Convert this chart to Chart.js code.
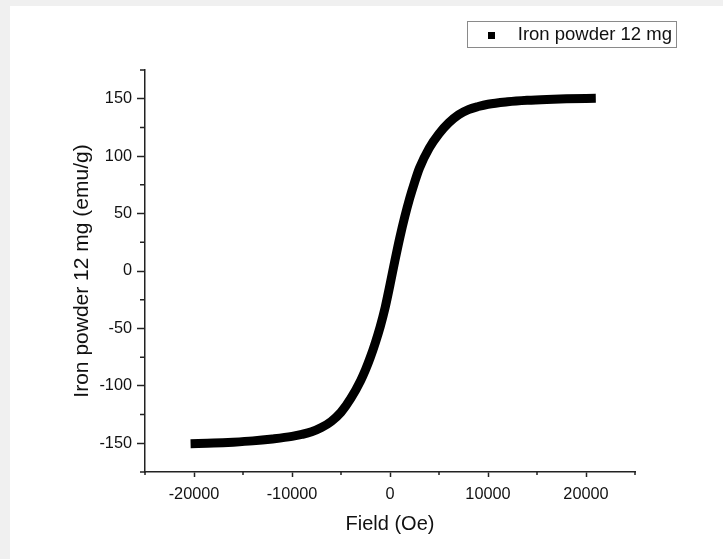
<!DOCTYPE html>
<html><head><meta charset="utf-8">
<script src="https://cdn.jsdelivr.net/npm/chart.js@4/dist/chart.umd.min.js"></script>
<style>
html,body{margin:0;padding:0;background:#f0f0f0;width:723px;height:559px;overflow:hidden}
#wrap{position:absolute;left:10px;top:6px;width:713px;height:553px;background:#fff}
canvas{display:block}
</style></head><body>
<div id="wrap"><canvas id="c" width="713" height="553"></canvas></div>
<script>
const seriesLabel = 'Iron powder 12 mg';
const xTitle = 'Field (Oe)';
const yTitle = 'Iron powder 12 mg (emu/g)';
const fieldOe = [-20350,-18000,-16000,-14000,-12000,-10000,-9000,-8000,-7000,-6000,-5000,-4000,-3000,-2500,-2000,-1500,-1000,-500,0,500,1000,1500,2000,2500,3000,4000,5000,6000,7000,8000,9000,10000,12000,14000,16000,18000,21000];
const magnetization = [-150.3,-149.8,-149.0,-147.9,-146.2,-144.0,-142.3,-140.0,-136.3,-131.0,-123.0,-111.0,-95.5,-86.0,-75.0,-62.5,-48.5,-32.0,-12.0,9.0,29.0,47.0,63.0,77.0,89.5,107.0,119.5,129.0,136.0,140.5,143.2,145.2,147.3,148.6,149.4,149.9,150.3];
const xTicks = [-20000,-10000,0,10000,20000];
const xMinor = [-25000,-15000,-5000,5000,15000,25000];
const yTicks = [-150,-100,-50,0,50,100,150];
const yMinor = [-175,-125,-75,-25,25,75,125,175];

const AX = '#222';
const TXT = '#111';
const FONT = "'Liberation Sans', Arial, sans-serif";

const marker = document.createElement('canvas');
marker.width = 7; marker.height = 7;
(function(){const m = marker.getContext('2d'); m.fillStyle = '#000'; m.fillRect(0,0,7,7);})();

const extras = {
  id: 'extras',
  afterDraw(chart){
    const ctx = chart.ctx, xs = chart.scales.x, ys = chart.scales.y;
    ctx.save();
    ctx.strokeStyle = AX; ctx.lineWidth = 1.5;
    ctx.beginPath();
    xMinor.forEach(v => { const p = xs.getPixelForValue(v); ctx.moveTo(p, xs.top); ctx.lineTo(p, xs.top + 3); });
    yMinor.forEach(v => { const p = ys.getPixelForValue(v); ctx.moveTo(ys.right, p); ctx.lineTo(ys.right - 5, p); });
    ctx.stroke();
    const lg = chart.legend;
    if (lg && lg.legendHitBoxes && lg.legendHitBoxes.length) {
      const hb = lg.legendHitBoxes[0];
      const cy = hb.top + hb.height / 2;
      const l = hb.left - 7, r = lg.right;
      ctx.strokeStyle = '#8a8a8a'; ctx.lineWidth = 1;
      ctx.strokeRect(Math.round(l) + 0.5, Math.round(cy - 14) + 0.5, Math.round(r - l), 26);
    }
    ctx.restore();
  }
};

new Chart(document.getElementById('c'), {
  type: 'scatter',
  data: {
    datasets: [{
      label: seriesLabel,
      data: fieldOe.map((x, i) => ({x, y: magnetization[i]})),
      showLine: true,
      borderColor: '#000',
      backgroundColor: '#000',
      borderWidth: 9,
      pointRadius: 0,
      pointStyle: marker,
      cubicInterpolationMode: 'monotone',
      borderCapStyle: 'butt',
      fill: false
    }]
  },
  options: {
    responsive: false,
    animation: false,
    layout: { padding: { left: 0, top: 16, right: 47, bottom: 0 } },
    plugins: {
      tooltip: { enabled: false },
      legend: {
        position: 'top',
        align: 'end',
        labels: {
          usePointStyle: true,
          pointStyle: marker,
          pointStyleWidth: 34.6,
          boxHeight: 7,
          padding: 4,
          color: TXT,
          font: { family: FONT, size: 18.5 }
        }
      }
    },
    scales: {
      x: {
        type: 'linear', position: 'bottom', min: -25000, max: 25000,
        afterBuildTicks: s => { s.ticks = xTicks.map(v => ({value: v})); },
        afterFit: s => { s.height = 87; },
        grid: { display: true, drawOnChartArea: false, drawTicks: true, tickLength: 5, tickWidth: 1.5, tickColor: AX },
        border: { display: true, color: AX, width: 1.5 },
        ticks: { color: TXT, padding: 8, maxRotation: 0, font: { family: FONT, size: 16.3 }, callback: v => String(v) },
        title: { display: true, text: xTitle, color: TXT, font: { family: FONT, size: 20 }, padding: { top: 0, bottom: 23 } }
      },
      y: {
        type: 'linear', position: 'left', min: -175, max: 175,
        afterBuildTicks: s => { s.ticks = yTicks.map(v => ({value: v})); },
        afterFit: s => { s.width = 135; },
        grid: { display: true, drawOnChartArea: false, drawTicks: true, tickLength: 8, tickWidth: 1.5, tickColor: AX },
        border: { display: true, color: AX, width: 1.5 },
        ticks: { color: TXT, padding: 5, font: { family: FONT, size: 16.3 }, callback: v => String(v) },
        title: { display: true, text: yTitle, color: TXT, font: { family: FONT, size: 21 }, padding: { top: 60, bottom: 0 } }
      },
      x2: {
        type: 'linear', position: 'top', min: 0, max: 1,
        afterFit: s => { const lh = s.chart.legend ? s.chart.legend.height : 0; s.height = Math.max(0, 64 - 16 - lh); },
        grid: { display: false }, border: { display: false }, ticks: { display: false }
      },
      y2: {
        type: 'linear', position: 'right', min: 0, max: 1,
        afterFit: s => { s.width = 41; },
        grid: { display: false }, border: { display: false }, ticks: { display: false }
      }
    }
  },
  plugins: [extras]
});
</script>
</body></html>
